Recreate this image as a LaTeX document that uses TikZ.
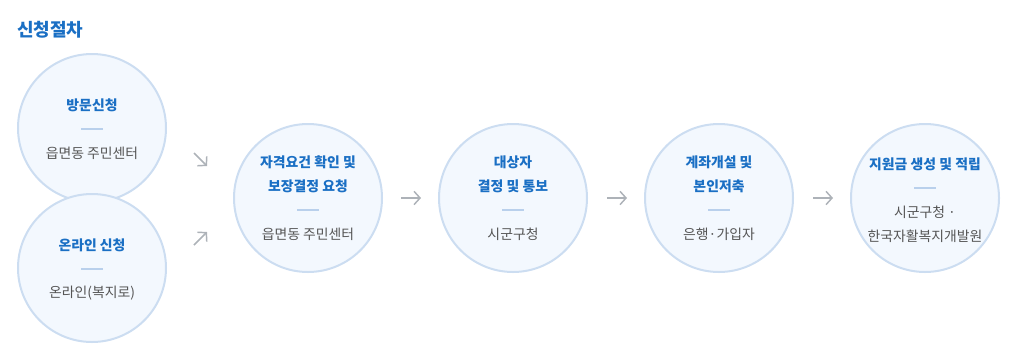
\documentclass[tikz,border=0pt]{standalone}
\usepackage{fontspec}
\setmainfont{Noto Sans CJK KR}
\usetikzlibrary{arrows.meta}
\definecolor{ttlblue}{HTML}{1A6FC4}
\definecolor{cfill}{HTML}{F3F8FE}
\definecolor{cline}{HTML}{CCDDF1}
\definecolor{dashc}{HTML}{B9D0EC}
\definecolor{subgray}{HTML}{555555}
\definecolor{arrgray}{HTML}{ADB2B8}
\begin{document}
\begin{tikzpicture}[x=0.75pt,y=-0.75pt,
  stepcircle/.style={circle,draw=cline,fill=cfill,line width=1.5pt,minimum size=111pt,inner sep=0pt},
  head/.style={text=ttlblue,font=\fontsize{10.4pt}{13pt}\selectfont\bfseries,align=center,inner sep=0pt},
  sub/.style={text=subgray,font=\fontsize{10.4pt}{13pt}\selectfont,align=center,inner sep=0pt},
  sep/.style={draw=dashc,line width=0.9pt},
  flow/.style={draw=arrgray,line width=1.1pt,-{Straight Barb[length=4.5pt,width=10pt,line width=1.1pt]}}]
\useasboundingbox (0,0) rectangle (1013,351);
\node[anchor=west,text=ttlblue,font=\fontsize{13.5pt}{15pt}\selectfont\bfseries,inner sep=0pt] (title) at (17,30) {신청절차};
% circles
\node[stepcircle] (c1) at (92,128) {};
\node[stepcircle] (c2) at (92,268) {};
\node[stepcircle] (c3) at (308,198) {};
\node[stepcircle] (c4) at (513,198) {};
\node[stepcircle] (c5) at (719,198) {};
\node[stepcircle] (c6) at (925,198) {};
% circle 1
\node[head] (h1) at (92,105) {방문신청};
\draw[sep] (81,129) -- (103,129);
\node[sub] (s1) at (92,153) {읍면동 주민센터};
% circle 2
\node[head] (h2) at (92,245) {온라인 신청};
\draw[sep] (81,269) -- (103,269);
\node[sub] (s2) at (92,293) {온라인(복지로)};
% circle 3
\node[head] (h3a) at (308,162) {자격요건 확인 및};
\node[head] (h3b) at (308,186) {보장결정 요청};
\draw[sep] (297,210) -- (319,210);
\node[sub] (s3) at (308,234) {읍면동 주민센터};
% circle 4
\node[head] (h4a) at (513,162) {대상자};
\node[head] (h4b) at (513,186) {결정 및 통보};
\draw[sep] (502,210) -- (524,210);
\node[sub] (s4) at (513,234) {시군구청};
% circle 5
\node[head] (h5a) at (719,162) {계좌개설 및};
\node[head] (h5b) at (719,186) {본인저축};
\draw[sep] (708,210) -- (730,210);
\node[sub] (s5) at (719,234) {은행·가입자};
% circle 6
\node[head] (h6) at (925,164) {지원금 생성 및 적립};
\draw[sep] (914,188) -- (936,188);
\node[sub] (s6a) at (925,212) {시군구청 ·};
\node[sub] (s6b) at (925,236) {한국자활복지개발원};
% arrows
\coordinate (a1s) at (194,153); \coordinate (a1e) at (207,166);
\coordinate (a2s) at (194,245); \coordinate (a2e) at (207,232);
\coordinate (a3s) at (401,198); \coordinate (a3e) at (421,198);
\coordinate (a4s) at (607,198); \coordinate (a4e) at (627,198);
\coordinate (a5s) at (813,198); \coordinate (a5e) at (833,198);
\draw[flow] (a1s) -- (a1e);
\draw[flow] (a2s) -- (a2e);
\draw[flow] (a3s) -- (a3e);
\draw[flow] (a4s) -- (a4e);
\draw[flow] (a5s) -- (a5e);
\end{tikzpicture}
\end{document}
